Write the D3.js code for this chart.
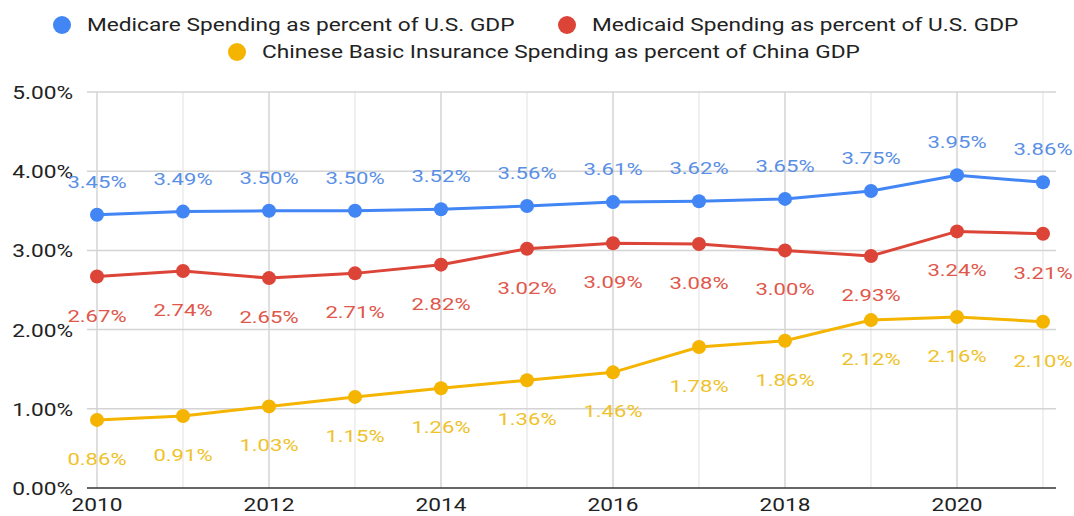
<!DOCTYPE html>
<html>
<head>
<meta charset="utf-8">
<script src="https://cdn.jsdelivr.net/npm/d3@7"></script>
<style>
  body { margin: 0; background: #fff; }
  text { font-family: Roboto, Arial, sans-serif; }
</style>
</head>
<body>
<div id="chart"></div>
<script>
const width = 1074;
const height = 516;

const years = [2010, 2011, 2012, 2013, 2014, 2015, 2016, 2017, 2018, 2019, 2020, 2021];
const medicare = [3.45, 3.49, 3.50, 3.50, 3.52, 3.56, 3.61, 3.62, 3.65, 3.75, 3.95, 3.86];
const medicaid = [2.67, 2.74, 2.65, 2.71, 2.82, 3.02, 3.09, 3.08, 3.00, 2.93, 3.24, 3.21];
const chinese = [0.86, 0.91, 1.03, 1.15, 1.26, 1.36, 1.46, 1.78, 1.86, 2.12, 2.16, 2.10];
const yTicks = [0, 1, 2, 3, 4, 5];
const xTicks = [2010, 2012, 2014, 2016, 2018, 2020];

const series = [
    {name: "Medicare Spending as percent of U.S. GDP", values: medicare, color: "#4285f4", label: "#5a8fe6", dy: -27},
    {name: "Medicaid Spending as percent of U.S. GDP", values: medicaid, color: "#db4437", label: "#e0574b", dy: 45},
    {name: "Chinese Basic Insurance Spending as percent of China GDP", values: chinese, color: "#f4b400", label: "#efc22a", dy: 45}
];

const xScale = d3.scaleLinear().domain([2010, 2021]).range([97, 1043]);
const yScale = d3.scaleLinear().domain([0, 5]).range([488, 92]);
const pct = d => d3.format(".2f")(d) + "%";

// reference text looks widened horizontally, so stretch it
const at = (x, y, k) => `translate(${x},${y}) scale(${k},1)`;

const svg = d3.select("#chart").append("svg").attr("width", width).attr("height", height);

// minor vertical grid (odd years)
svg.append("g").selectAll("line")
    .data(years.filter(y => y % 2 === 1))
    .join("line")
    .attr("x1", d => xScale(d)).attr("x2", d => xScale(d))
    .attr("y1", yScale(5)).attr("y2", yScale(0))
    .attr("stroke", "#ebebeb").attr("stroke-width", 1.5);

// major vertical grid
svg.append("g").selectAll("line")
    .data(xTicks)
    .join("line")
    .attr("x1", d => xScale(d)).attr("x2", d => xScale(d))
    .attr("y1", yScale(5)).attr("y2", yScale(0))
    .attr("stroke", "#d4d4d4").attr("stroke-width", 1.5);

// horizontal grid
svg.append("g").selectAll("line")
    .data(yTicks.filter(d => d > 0))
    .join("line")
    .attr("x1", 87).attr("x2", 1056)
    .attr("y1", d => yScale(d)).attr("y2", d => yScale(d))
    .attr("stroke", "#d4d4d4").attr("stroke-width", 1.5);

// baseline
svg.append("line")
    .attr("x1", 87).attr("x2", 1056)
    .attr("y1", yScale(0)).attr("y2", yScale(0))
    .attr("stroke", "#333").attr("stroke-width", 1.5);

// y labels
svg.append("g").selectAll("text")
    .data(yTicks)
    .join("text")
    .attr("transform", d => at(73, yScale(d) + 7, 1.26))
    .attr("text-anchor", "end")
    .attr("font-size", 18)
    .attr("fill", "#222")
    .text(pct);

// x labels
svg.append("g").selectAll("text")
    .data(xTicks)
    .join("text")
    .attr("transform", d => at(xScale(d), 511, 1.26))
    .attr("text-anchor", "middle")
    .attr("font-size", 18)
    .attr("fill", "#222")
    .text(d => d);

const line = d3.line()
    .x((d, i) => xScale(years[i]))
    .y(d => yScale(d));

series.forEach(s => {
    const g = svg.append("g");
    g.append("path")
        .datum(s.values)
        .attr("fill", "none")
        .attr("stroke", s.color)
        .attr("stroke-width", 3)
        .attr("d", line);
    g.selectAll("circle")
        .data(s.values)
        .join("circle")
        .attr("cx", (d, i) => xScale(years[i]))
        .attr("cy", d => yScale(d))
        .attr("r", 7)
        .attr("fill", s.color);
    g.selectAll("text")
        .data(s.values)
        .join("text")
        .attr("transform", (d, i) => at(xScale(years[i]), yScale(d) + s.dy, 1.3))
        .attr("text-anchor", "middle")
        .attr("font-size", 17)
        .attr("fill", s.label)
        .text(pct);
});

// legend
const legendItems = [
    {s: series[0], cx: 62, cy: 25},
    {s: series[1], cx: 567, cy: 25},
    {s: series[2], cx: 237, cy: 52}
];
legendItems.forEach(item => {
    svg.append("circle")
        .attr("cx", item.cx).attr("cy", item.cy).attr("r", 9)
        .attr("fill", item.s.color);
    svg.append("text")
        .attr("transform", at(item.cx + 25, item.cy + 6, 1.26))
        .attr("font-size", 18)
        .attr("fill", "#222")
        .text(item.s.name);
});
</script>
</body>
</html>
